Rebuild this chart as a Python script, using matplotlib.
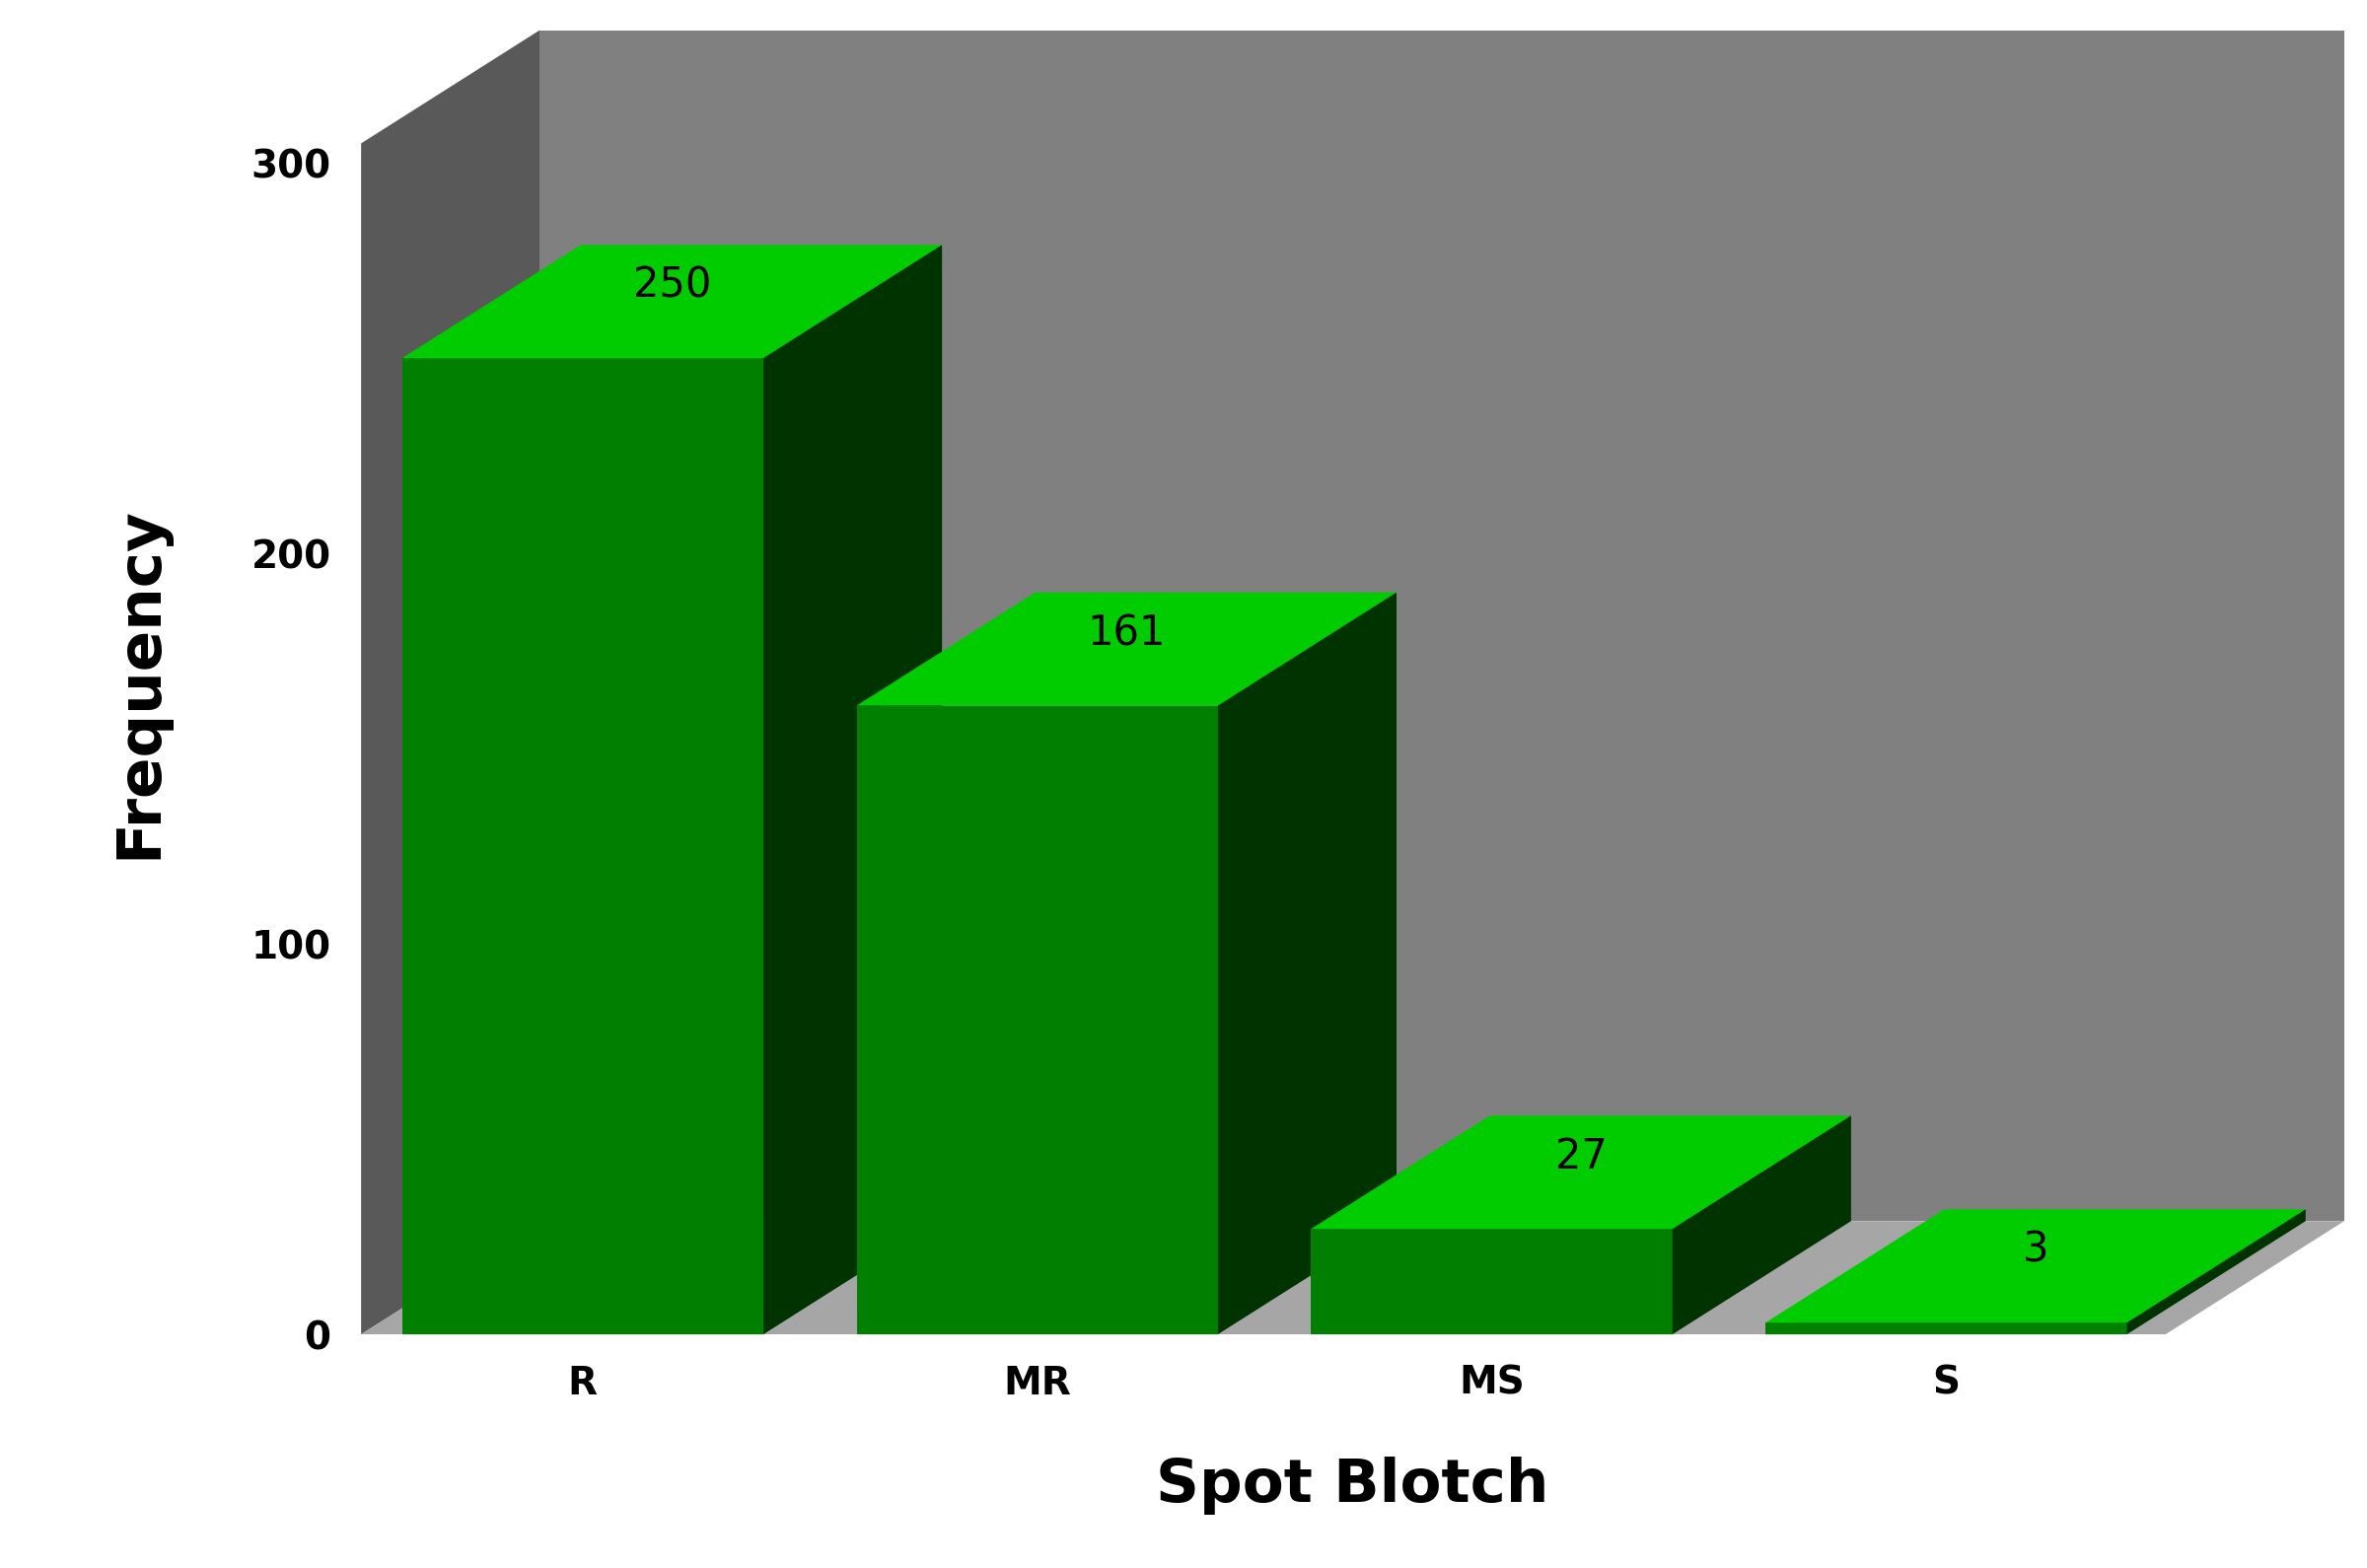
import matplotlib
matplotlib.use('Agg')
import matplotlib.pyplot as plt
from matplotlib.patches import Polygon

categories = ['R', 'MR', 'MS', 'S']
values = [250, 161, 27, 3]

# geometry (category units / value units)
x0 = 0.09
width = 0.795
dx, dy = 0.393, 29.0
floor_end = 3.97
ymax = 305

fig = plt.figure(figsize=(24, 15.9), dpi=100)
ax = fig.add_axes([238/1560, (1040-885)/1040, (1545-238)/1560, (885-20)/1040])
ax.set_xlim(0, floor_end + dx)
ax.set_ylim(0, ymax + dy)
for s in ax.spines.values():
    s.set_visible(False)

def poly(pts, c, z):
    ax.add_patch(Polygon(pts, closed=True, facecolor=c, edgecolor='none', zorder=z, clip_on=False))

# walls and floor
poly([(0, 0), (0, ymax), (dx, ymax+dy), (dx, dy)], '#595959', 1)
poly([(dx, dy), (floor_end+dx, dy), (floor_end+dx, ymax+dy), (dx, ymax+dy)], '#808080', 1)
poly([(0, 0), (floor_end, 0), (floor_end+dx, dy), (dx, dy)], '#a6a6a6', 1)

for i, (cat, v) in enumerate(zip(categories, values)):
    l = x0 + i
    r = l + width
    poly([(l, 0), (r, 0), (r, v), (l, v)], '#007f00', 3)
    poly([(l, v), (r, v), (r+dx, v+dy), (l+dx, v+dy)], '#00cc00', 3)
    poly([(r, 0), (r+dx, dy), (r+dx, v+dy), (r, v)], '#003300', 3)
    ax.text(l + width/2 + dx/2, v + dy/2 + 4, str(v), ha='center', va='center',
            fontsize=30, color='black', zorder=4)

ax.set_xticks([x0 + i + width/2 for i in range(len(categories))])
ax.set_xticklabels(categories, fontsize=28, fontweight='bold')
ax.set_yticks([0, 100, 200, 300])
ax.set_yticklabels(['0', '100', '200', '300'], fontsize=28, fontweight='bold')
ax.tick_params(length=0, pad=22)
ax.set_xlabel('Spot Blotch', fontsize=44, fontweight='bold', labelpad=40)
ax.set_ylabel('Frequency', fontsize=44, fontweight='bold', labelpad=60)

fig.savefig('out.png', dpi=100, facecolor='white')
